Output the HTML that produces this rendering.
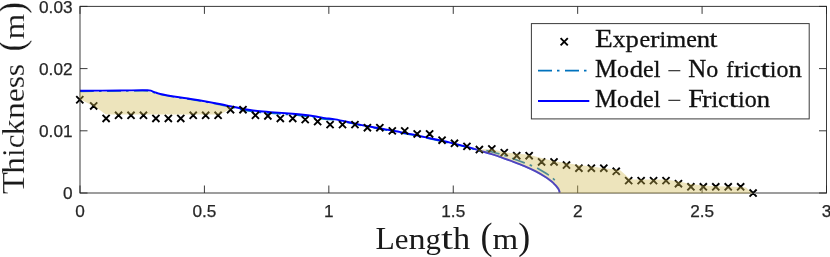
<!DOCTYPE html>
<html><head><meta charset="utf-8"><title>Thickness vs Length</title>
<style>html,body{margin:0;padding:0;background:#fff;}body{width:830px;height:257px;overflow:hidden;}svg{display:block;will-change:transform;}.tk{font-family:"Liberation Sans",sans-serif;font-size:17.2px;fill:#262626;stroke:#262626;stroke-width:0.25px;}.lb{font-family:"Liberation Serif",serif;fill:#1a1a1a;}.lg{font-family:"Liberation Serif",serif;fill:#111;stroke:#111;stroke-width:0.3px;}</style></head><body>
<svg width="830" height="257" viewBox="0 0 830 257">
<rect x="0" y="0" width="830" height="257" fill="#ffffff"/>
<path d="M80.00 91.30 C86.67 91.25 108.75 91.08 120.00 91.00 C131.25 90.92 141.78 90.53 147.50 90.80 C153.22 91.07 152.16 91.99 154.30 92.60 C156.44 93.21 156.82 93.69 160.35 94.46 C163.88 95.23 170.44 96.36 175.50 97.20 C180.56 98.04 185.63 98.70 190.70 99.50 C195.77 100.30 200.85 101.12 205.90 102.00 C210.95 102.88 216.98 104.00 221.00 104.80 C225.02 105.60 226.80 106.03 230.00 106.80 C233.20 107.57 235.98 108.55 240.20 109.40 C244.42 110.25 250.25 111.27 255.30 111.90 C260.35 112.53 265.43 112.80 270.50 113.20 C275.57 113.60 280.63 113.90 285.70 114.30 C290.77 114.70 295.85 115.05 300.90 115.60 C305.95 116.15 311.98 117.00 316.00 117.60 C320.02 118.20 321.80 118.82 325.00 119.20 C328.20 119.58 330.98 119.27 335.20 119.90 C339.42 120.53 345.25 121.93 350.30 123.00 C355.35 124.07 360.43 125.30 365.50 126.30 C370.57 127.30 375.63 128.08 380.70 129.00 C385.77 129.92 390.85 130.87 395.90 131.80 C400.95 132.73 406.98 133.80 411.00 134.60 C415.02 135.40 417.50 136.05 420.00 136.60 C422.50 137.15 421.00 136.82 426.00 137.90 C431.00 138.98 442.67 141.40 450.00 143.10 C457.33 144.80 464.85 146.72 470.00 148.10 C475.15 149.48 479.08 150.85 480.90 151.40" fill="none" stroke="#0072BD" stroke-width="1.7" stroke-dasharray="14 5 2.5 5.5"/>
<path d="M486.30 150.50 C488.30 151.02 495.12 152.73 498.30 153.60 C501.48 154.47 503.03 154.88 505.40 155.70 C507.77 156.52 509.32 157.30 512.50 158.50 C515.68 159.70 521.05 161.60 524.50 162.90 C527.95 164.20 531.03 165.40 533.20 166.30 C535.37 167.20 534.97 166.87 537.50 168.30 C540.03 169.73 545.48 172.90 548.40 174.90 C551.32 176.90 553.65 179.12 555.00 180.30 C556.35 181.48 556.25 181.72 556.50 182.00" fill="none" stroke="#0072BD" stroke-width="1.7" stroke-dasharray="13.5 5.2 2.5 5.8"/>
<path d="M80.00 90.80 C86.67 90.75 108.75 90.58 120.00 90.50 C131.25 90.42 141.78 90.03 147.50 90.30 C153.22 90.57 152.16 91.49 154.30 92.10 C156.44 92.71 156.82 93.19 160.35 93.96 C163.88 94.73 170.44 95.86 175.50 96.70 C180.56 97.54 185.63 98.20 190.70 99.00 C195.77 99.80 200.85 100.62 205.90 101.50 C210.95 102.38 216.98 103.50 221.00 104.30 C225.02 105.10 226.80 105.63 230.00 106.30 C233.20 106.97 235.98 107.55 240.20 108.30 C244.42 109.05 250.25 110.17 255.30 110.80 C260.35 111.43 265.43 111.70 270.50 112.10 C275.57 112.50 280.63 112.80 285.70 113.20 C290.77 113.60 295.85 113.95 300.90 114.50 C305.95 115.05 311.98 115.90 316.00 116.50 C320.02 117.10 321.80 117.62 325.00 118.10 C328.20 118.58 330.98 118.67 335.20 119.40 C339.42 120.13 345.25 121.43 350.30 122.50 C355.35 123.57 360.43 124.80 365.50 125.80 C370.57 126.80 375.63 127.58 380.70 128.50 C385.77 129.42 390.85 130.37 395.90 131.30 C400.95 132.23 406.98 133.30 411.00 134.10 C415.02 134.90 417.50 135.55 420.00 136.10 C422.50 136.65 421.00 136.32 426.00 137.40 C431.00 138.48 442.67 140.90 450.00 142.60 C457.33 144.30 464.85 146.22 470.00 147.60 C475.15 148.98 477.27 149.80 480.90 150.90 C484.53 152.00 488.17 153.03 491.80 154.20 C495.43 155.37 499.07 156.63 502.70 157.90 C506.33 159.17 509.97 160.43 513.60 161.80 C517.23 163.17 520.87 164.53 524.50 166.10 C528.13 167.67 531.77 169.30 535.40 171.20 C539.03 173.10 543.53 175.73 546.30 177.50 C549.07 179.27 550.55 180.60 552.00 181.80 C553.45 183.00 554.08 183.73 555.00 184.70 C555.92 185.67 556.85 186.75 557.50 187.60 C558.15 188.45 558.52 188.95 558.90 189.80 C559.28 190.65 559.65 192.22 559.80 192.70" fill="none" stroke="#0000FF" stroke-width="1.9" stroke-linejoin="round"/>
<path d="M76.25 96.20 L83.35 103.30 M76.25 103.30 L83.35 96.20 M90.14 102.42 L97.24 109.52 M90.14 109.52 L97.24 102.42 M102.58 114.86 L109.68 121.96 M102.58 121.96 L109.68 114.86 M115.03 111.75 L122.13 118.85 M115.03 118.85 L122.13 111.75 M127.47 111.75 L134.57 118.85 M127.47 118.85 L134.57 111.75 M139.91 111.75 L147.01 118.85 M139.91 118.85 L147.01 111.75 M152.35 114.86 L159.45 121.96 M152.35 121.96 L159.45 114.86 M164.79 114.86 L171.89 121.96 M164.79 121.96 L171.89 114.86 M177.23 114.86 L184.33 121.96 M177.23 121.96 L184.33 114.86 M189.68 111.75 L196.78 118.85 M189.68 118.85 L196.78 111.75 M202.12 111.75 L209.22 118.85 M202.12 118.85 L209.22 111.75 M214.56 111.75 L221.66 118.85 M214.56 118.85 L221.66 111.75 M227.00 106.15 L234.10 113.25 M227.00 113.25 L234.10 106.15 M239.44 106.15 L246.54 113.25 M239.44 113.25 L246.54 106.15 M251.88 111.75 L258.98 118.85 M251.88 118.85 L258.98 111.75 M264.32 112.37 L271.43 119.47 M264.32 119.47 L271.43 112.37 M276.77 114.86 L283.87 121.96 M276.77 121.96 L283.87 114.86 M289.21 114.86 L296.31 121.96 M289.21 121.96 L296.31 114.86 M301.65 116.10 L308.75 123.20 M301.65 123.20 L308.75 116.10 M314.09 117.97 L321.19 125.07 M314.09 125.07 L321.19 117.97 M326.53 121.08 L333.63 128.18 M326.53 128.18 L333.63 121.08 M338.98 121.08 L346.08 128.18 M338.98 128.18 L346.08 121.08 M351.42 121.08 L358.52 128.18 M351.42 128.18 L358.52 121.08 M363.86 124.19 L370.96 131.29 M363.86 131.29 L370.96 124.19 M376.30 124.19 L383.40 131.29 M376.30 131.29 L383.40 124.19 M388.74 127.30 L395.84 134.40 M388.74 134.40 L395.84 127.30 M401.18 127.30 L408.28 134.40 M401.18 134.40 L408.28 127.30 M413.62 130.41 L420.73 137.51 M413.62 137.51 L420.73 130.41 M426.07 130.41 L433.17 137.51 M426.07 137.51 L433.17 130.41 M438.51 136.63 L445.61 143.73 M438.51 143.73 L445.61 136.63 M450.95 139.74 L458.05 146.84 M450.95 146.84 L458.05 139.74 M463.39 142.85 L470.49 149.95 M463.39 149.95 L470.49 142.85 M475.83 145.96 L482.93 153.06 M475.83 153.06 L482.93 145.96 M488.28 145.34 L495.38 152.44 M488.28 152.44 L495.38 145.34 M500.72 149.07 L507.82 156.17 M500.72 156.17 L507.82 149.07 M513.16 152.18 L520.26 159.28 M513.16 159.28 L520.26 152.18 M525.60 152.18 L532.70 159.28 M525.60 159.28 L532.70 152.18 M538.04 158.40 L545.14 165.50 M538.04 165.50 L545.14 158.40 M550.48 158.40 L557.58 165.50 M550.48 165.50 L557.58 158.40 M562.93 161.51 L570.03 168.61 M562.93 168.61 L570.03 161.51 M575.37 164.62 L582.47 171.72 M575.37 171.72 L582.47 164.62 M587.81 164.62 L594.91 171.72 M587.81 171.72 L594.91 164.62 M600.25 164.62 L607.35 171.72 M600.25 171.72 L607.35 164.62 M612.69 167.73 L619.79 174.83 M612.69 174.83 L619.79 167.73 M625.13 177.06 L632.23 184.16 M625.13 184.16 L632.23 177.06 M637.58 177.06 L644.67 184.16 M637.58 184.16 L644.67 177.06 M650.02 177.06 L657.12 184.16 M650.02 184.16 L657.12 177.06 M662.46 177.06 L669.56 184.16 M662.46 184.16 L669.56 177.06 M674.90 180.17 L682.00 187.27 M674.90 187.27 L682.00 180.17 M687.34 183.28 L694.44 190.38 M687.34 190.38 L694.44 183.28 M699.78 183.28 L706.88 190.38 M699.78 190.38 L706.88 183.28 M712.23 183.28 L719.33 190.38 M712.23 190.38 L719.33 183.28 M724.67 183.28 L731.77 190.38 M724.67 190.38 L731.77 183.28 M737.11 183.28 L744.21 190.38 M737.11 190.38 L744.21 183.28 M749.55 189.50 L756.65 196.60 M749.55 196.60 L756.65 189.50" fill="none" stroke="#000" stroke-width="1.9"/>
<g stroke="#262626" stroke-width="1" fill="none" stroke-opacity="0.9">
<rect x="80.00" y="6.40" width="746.50" height="186.60"/>
<path d="M80.00 193.00 v-7.50 M80.00 6.40 v7.50"/>
<path d="M204.42 193.00 v-7.50 M204.42 6.40 v7.50"/>
<path d="M328.83 193.00 v-7.50 M328.83 6.40 v7.50"/>
<path d="M453.25 193.00 v-7.50 M453.25 6.40 v7.50"/>
<path d="M577.67 193.00 v-7.50 M577.67 6.40 v7.50"/>
<path d="M702.08 193.00 v-7.50 M702.08 6.40 v7.50"/>
<path d="M826.50 193.00 v-7.50 M826.50 6.40 v7.50"/>
<path d="M80.00 193.00 h7.50 M826.50 193.00 h-7.50"/>
<path d="M80.00 130.80 h7.50 M826.50 130.80 h-7.50"/>
<path d="M80.00 68.60 h7.50 M826.50 68.60 h-7.50"/>
<path d="M80.00 6.40 h7.50 M826.50 6.40 h-7.50"/>
</g>
<path d="M80.00 92.00 L120.00 91.70 L147.50 91.50 L154.30 93.30 L160.35 95.16 L175.50 97.90 L190.70 100.20 L205.90 102.70 L221.00 105.50 L230.00 107.50 L232.50 107.40 L231.30 108.70 L219.40 114.60 L108.50 114.60 L105.50 114.20 L100.50 110.60 L93.70 105.90 L79.70 99.30 Z" fill="rgb(208,185,80)" fill-opacity="0.38" stroke="none"/>
<path d="M470.00 147.00 L480.10 151.50 L491.00 154.80 L501.90 158.50 L512.80 162.40 L523.70 166.70 L534.60 171.80 L545.50 178.10 L551.20 182.40 L554.20 185.30 L556.70 188.20 L558.10 190.40 L559.00 193.30 L752.80 193.40 L746.00 187.60 L740.60 186.90 L728.20 186.60 L715.60 186.20 L703.10 185.40 L690.80 184.10 L678.60 181.60 L666.10 179.50 L634.00 179.40 L629.30 178.40 L625.00 174.50 L620.50 170.40 L616.30 169.60 L603.80 168.30 L591.40 166.50 L578.80 164.90 L566.30 163.00 L554.00 161.30 L541.40 158.10 L528.90 154.70 L516.30 153.60 L504.00 152.30 L491.80 148.90 L478.50 149.50 Z" fill="rgb(208,185,80)" fill-opacity="0.38" stroke="none"/>
<text class="tk" x="80.00" y="217.0" text-anchor="middle">0</text>
<text class="tk" x="204.42" y="217.0" text-anchor="middle">0.5</text>
<text class="tk" x="328.83" y="217.0" text-anchor="middle">1</text>
<text class="tk" x="453.25" y="217.0" text-anchor="middle">1.5</text>
<text class="tk" x="577.67" y="217.0" text-anchor="middle">2</text>
<text class="tk" x="702.08" y="217.0" text-anchor="middle">2.5</text>
<text class="tk" x="826.50" y="217.0" text-anchor="middle">3</text>
<text class="tk" x="72.5" y="199.20" text-anchor="end">0</text>
<text class="tk" x="72.5" y="137.00" text-anchor="end">0.01</text>
<text class="tk" x="72.5" y="74.80" text-anchor="end">0.02</text>
<text class="tk" x="72.5" y="12.60" text-anchor="end">0.03</text>
<g class="lb" transform="translate(0 249.1)"><text transform="translate(375.40 0) scale(1.0232 1.040)" font-size="30.86">L</text><text transform="translate(394.69 0) scale(1.0003 0.985)" font-size="30.86">e</text><text transform="translate(408.39 0) scale(1.1120 0.985)" font-size="30.86">n</text><text transform="translate(425.55 0) scale(1.0000 0.985)" font-size="30.86">g</text><text transform="translate(440.98 0) scale(1.4001 1.000)" font-size="30.86">t</text><text transform="translate(452.98 0) scale(1.1120 1.000)" font-size="30.86">h</text><text transform="translate(480.42 0) scale(1.1681 1.200)" font-size="30.86">(</text><text transform="translate(492.42 0) scale(1.0709 0.985)" font-size="30.86">m</text><text transform="translate(518.13 0) scale(1.1681 1.200)" font-size="30.86">)</text></g>
<g class="lb" stroke="#fff" stroke-width="0.15" transform="translate(23.6 193.3) rotate(-90)"><text transform="translate(-0.90 0) scale(1.1820 1.040)" font-size="30.86">T</text><text transform="translate(19.22 0) scale(1.1120 1.000)" font-size="30.86">h</text><text transform="translate(36.38 0) scale(1.0006 1.000)" font-size="30.86">i</text><text transform="translate(44.96 0) scale(1.0003 0.985)" font-size="30.86">c</text><text transform="translate(57.80 0) scale(1.0560 1.000)" font-size="30.86">k</text><text transform="translate(74.09 0) scale(1.1120 0.985)" font-size="30.86">n</text><text transform="translate(91.25 0) scale(1.0003 0.985)" font-size="30.86">e</text><text transform="translate(104.95 0) scale(1.0124 0.985)" font-size="30.86">s</text><text transform="translate(117.11 0) scale(1.0124 0.985)" font-size="30.86">s</text><text transform="translate(141.70 0) scale(1.1681 1.200)" font-size="30.86">(</text><text transform="translate(153.70 0) scale(1.0709 0.985)" font-size="30.86">m</text><text transform="translate(179.41 0) scale(1.1681 1.200)" font-size="30.86">)</text></g>
<rect x="531.4" y="23.6" width="277.8" height="95.3" fill="#fff" stroke="#262626" stroke-width="1" stroke-opacity="0.9"/>
<path d="M560.60 38.15 L567.80 45.35 M560.60 45.35 L567.80 38.15" stroke="#000" stroke-width="1.9" fill="none"/>
<path d="M538 70.55 H589" stroke="#0072BD" stroke-width="1.7" stroke-dasharray="14 5 2.5 5.5" fill="none"/>
<path d="M538 101.0 H589.3" stroke="#0000FF" stroke-width="1.9" fill="none"/>
<g class="lg" transform="translate(0 46.90)"><text transform="translate(595.00 0) scale(1.2114 1.040)" font-size="24.00">E</text><text transform="translate(612.76 0) scale(1.0560 0.970)" font-size="24.00">x</text><text transform="translate(625.43 0) scale(1.1120 0.970)" font-size="24.00">p</text><text transform="translate(639.45 0) scale(1.0003 0.970)" font-size="24.00">e</text><text transform="translate(650.10 0) scale(1.1771 0.970)" font-size="24.00">r</text><text transform="translate(659.51 0) scale(1.0006 1.000)" font-size="24.00">i</text><text transform="translate(666.18 0) scale(1.0709 0.970)" font-size="24.00">m</text><text transform="translate(686.18 0) scale(1.0003 0.970)" font-size="24.00">e</text><text transform="translate(696.83 0) scale(1.1120 0.970)" font-size="24.00">n</text><text transform="translate(709.50 0) scale(1.1878 1.000)" font-size="24.00">t</text></g>
<g class="lg" transform="translate(0 77.00)"><text transform="translate(595.00 0) scale(1.0313 1.040)" font-size="24.00">M</text><text transform="translate(617.01 0) scale(1.0000 0.970)" font-size="24.00">o</text><text transform="translate(629.68 0) scale(1.1120 1.000)" font-size="24.00">d</text><text transform="translate(643.02 0) scale(1.0003 0.970)" font-size="24.00">e</text><text transform="translate(653.68 0) scale(1.0006 1.000)" font-size="24.00">l</text><path d="M668.34 -6.29 h12.00" stroke="#1a1a1a" stroke-width="1.08" fill="none"/><text transform="translate(688.34 0) scale(1.0385 1.040)" font-size="24.00">N</text><text transform="translate(706.34 0) scale(1.0000 0.970)" font-size="24.00">o</text><text transform="translate(726.33 0) scale(0.9189 1.000)" font-size="24.00">f</text><text transform="translate(733.67 0) scale(1.1771 0.970)" font-size="24.00">r</text><text transform="translate(743.08 0) scale(1.0006 1.000)" font-size="24.00">i</text><text transform="translate(749.75 0) scale(1.0003 0.970)" font-size="24.00">c</text><text transform="translate(760.41 0) scale(1.4001 1.000)" font-size="24.00">t</text><text transform="translate(769.74 0) scale(1.0006 1.000)" font-size="24.00">i</text><text transform="translate(776.42 0) scale(1.0000 0.970)" font-size="24.00">o</text><text transform="translate(788.42 0) scale(1.1120 0.970)" font-size="24.00">n</text></g>
<g class="lg" transform="translate(0 106.60)"><text transform="translate(595.00 0) scale(1.0313 1.040)" font-size="24.00">M</text><text transform="translate(617.01 0) scale(1.0000 0.970)" font-size="24.00">o</text><text transform="translate(629.68 0) scale(1.1120 1.000)" font-size="24.00">d</text><text transform="translate(643.02 0) scale(1.0003 0.970)" font-size="24.00">e</text><text transform="translate(653.68 0) scale(1.0006 1.000)" font-size="24.00">l</text><path d="M668.34 -6.29 h12.00" stroke="#1a1a1a" stroke-width="1.08" fill="none"/><text transform="translate(688.34 0) scale(1.1741 1.040)" font-size="24.00">F</text><text transform="translate(702.02 0) scale(1.1771 0.970)" font-size="24.00">r</text><text transform="translate(711.42 0) scale(1.0006 1.000)" font-size="24.00">i</text><text transform="translate(718.10 0) scale(1.0003 0.970)" font-size="24.00">c</text><text transform="translate(728.75 0) scale(1.4001 1.000)" font-size="24.00">t</text><text transform="translate(738.09 0) scale(1.0006 1.000)" font-size="24.00">i</text><text transform="translate(744.76 0) scale(1.0000 0.970)" font-size="24.00">o</text><text transform="translate(756.76 0) scale(1.1120 0.970)" font-size="24.00">n</text></g>
</svg></body></html>
